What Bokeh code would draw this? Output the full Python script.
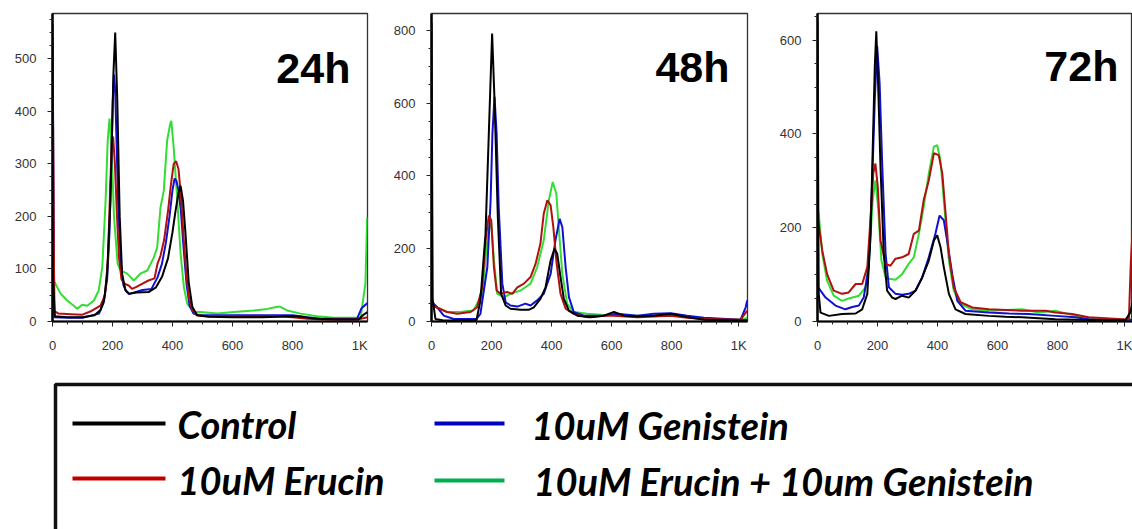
from bokeh.plotting import figure
from bokeh.models import Range1d, FixedTicker, Label, ColumnDataSource
from bokeh.layouts import row, column
from bokeh.embed import file_html
from bokeh.resources import INLINE
from bokeh.core.properties import value

# ---------------- data ----------------
SERIES = ["Control", "10uM Erucin", "10uM Genistein", "10uM Erucin + 10um Genistein"]
LINE_COLORS = ["#000000", "#b01010", "#1010d0", "#33dd33"]
LEGEND_COLORS = ["#000000", "#c00000", "#0000c0", "#00b050"]
PANELS = ["24h", "48h", "72h"]

X_TICKS = [0, 200, 400, 600, 800, 1024]
X_TICK_LABELS = ["0", "200", "400", "600", "800", "1K"]

# 24h
X24_CTRL = [0, 8, 50, 100, 140, 160, 172, 182, 193, 203, 209, 216, 224, 232, 243, 255, 280, 320, 345, 365, 385, 400, 410, 420, 427, 435, 443, 454, 466, 482, 520, 600, 700, 800, 830, 880, 950, 1020, 1035, 1050]
Y24_CTRL = [100, 10, 8, 8, 12, 22, 40, 90, 230, 470, 550, 420, 200, 90, 60, 53, 55, 56, 65, 85, 120, 170, 210, 245, 258, 230, 170, 75, 28, 12, 9, 8, 8, 10, 9, 5, 4, 4, 12, 18]
X24_ERU = [0, 6, 20, 60, 100, 130, 160, 175, 185, 192, 198, 202, 208, 215, 222, 230, 240, 255, 265, 280, 300, 320, 340, 350, 360, 372, 385, 395, 404, 412, 420, 428, 437, 446, 455, 466, 480, 520, 600, 700, 750, 800, 850, 900, 1020, 1050]
Y24_ERU = [540, 20, 15, 14, 13, 20, 30, 50, 120, 250, 345, 352, 300, 200, 120, 80, 72, 68, 62, 66, 72, 78, 82, 110, 125, 155, 210, 262, 300, 305, 290, 240, 160, 90, 45, 22, 12, 10, 10, 9, 10, 8, 5, 4, 4, 8]
X24_GEN = [0, 6, 50, 100, 155, 170, 182, 190, 196, 201, 205, 209, 214, 220, 228, 236, 245, 255, 270, 300, 330, 350, 365, 378, 390, 400, 407, 413, 420, 428, 437, 447, 457, 470, 490, 600, 700, 800, 850, 900, 1015, 1030, 1050]
Y24_GEN = [566, 8, 7, 7, 15, 35, 80, 170, 300, 420, 470, 440, 330, 200, 110, 70, 58, 52, 55, 60, 62, 84, 110, 150, 200, 250, 272, 268, 250, 210, 140, 70, 30, 15, 12, 12, 12, 12, 8, 5, 5, 25, 35]
X24_COMB = [0, 4, 27, 49, 71, 82, 99, 116, 138, 154, 166, 177, 184, 190, 197, 205, 217, 227, 249, 271, 293, 316, 338, 349, 360, 371, 382, 392, 396, 404, 416, 427, 438, 449, 471, 493, 549, 604, 671, 716, 750, 760, 782, 827, 882, 938, 1027, 1043, 1049]
Y24_COMB = [80, 78, 53, 40, 30, 24, 32, 30, 40, 59, 103, 230, 344, 386, 330, 200, 110, 97, 91, 78, 91, 97, 122, 141, 217, 249, 344, 375, 382, 331, 230, 129, 65, 34, 18, 18, 15, 18, 21, 24, 28, 28, 21, 15, 10, 7, 7, 72, 198]

# 48h
X48_CTRL = [0, 4, 13, 40, 100, 150, 163, 180, 191, 202, 210, 221, 232, 247, 263, 297, 324, 341, 363, 380, 397, 410, 419, 430, 441, 458, 486, 530, 574, 608, 641, 686, 741, 797, 852, 908, 1030, 1052]
Y48_CTRL = [820, 60, 7, 3, 3, 4, 58, 241, 516, 791, 608, 287, 76, 44, 35, 32, 32, 39, 62, 94, 168, 200, 186, 122, 62, 30, 16, 12, 16, 26, 16, 14, 16, 21, 12, 5, 3, 4]
X48_ERU = [0, 2, 52, 86, 130, 152, 169, 180, 191, 199, 208, 217, 230, 252, 269, 286, 308, 330, 347, 363, 374, 386, 397, 406, 417, 430, 447, 474, 519, 574, 608, 686, 741, 797, 852, 908, 1030, 1052]
Y48_ERU = [50, 44, 26, 21, 26, 39, 94, 223, 291, 278, 149, 85, 76, 81, 76, 94, 104, 122, 159, 214, 296, 333, 319, 259, 159, 76, 35, 21, 12, 16, 16, 12, 14, 16, 10, 7, 5, 30]
X48_GEN = [0, 2, 19, 41, 74, 150, 163, 186, 197, 203, 210, 217, 224, 236, 247, 263, 286, 313, 330, 352, 374, 397, 413, 427, 436, 447, 458, 474, 508, 574, 619, 686, 741, 797, 852, 908, 1030, 1047, 1052]
Y48_GEN = [60, 53, 39, 16, 7, 7, 21, 149, 333, 516, 617, 516, 314, 104, 53, 44, 41, 49, 44, 58, 76, 131, 223, 282, 259, 149, 67, 26, 16, 16, 21, 16, 21, 23, 16, 10, 5, 39, 58]
X48_COMB = [0, 2, 52, 100, 140, 169, 186, 194, 199, 208, 219, 241, 263, 297, 330, 352, 374, 391, 404, 416, 424, 436, 452, 474, 519, 574, 608, 686, 741, 797, 852, 908, 1030, 1052]
Y48_COMB = [50, 46, 26, 27, 30, 76, 223, 265, 270, 170, 76, 67, 76, 85, 104, 149, 223, 333, 383, 351, 259, 131, 49, 26, 21, 18, 18, 16, 16, 18, 12, 8, 5, 10]

# 72h
X72_CTRL = [0, 4, 10, 38, 82, 127, 149, 166, 177, 184, 191, 196, 202, 210, 221, 232, 249, 260, 282, 304, 327, 349, 371, 388, 399, 410, 421, 438, 460, 493, 571, 627, 682, 793, 904, 1027, 1043, 1050]
Y72_CTRL = [641, 60, 19, 12, 16, 17, 26, 59, 187, 366, 544, 619, 509, 330, 144, 66, 51, 48, 55, 51, 66, 94, 130, 173, 184, 159, 116, 59, 26, 16, 12, 10, 9, 5, 3, 3, 20, 40]
X72_ERU = [0, 2, 16, 32, 54, 82, 104, 127, 149, 166, 177, 186, 193, 201, 210, 227, 243, 260, 282, 304, 321, 338, 354, 371, 388, 404, 416, 427, 438, 454, 477, 516, 571, 682, 760, 793, 849, 904, 1016, 1038, 1044, 1050]
Y72_ERU = [230, 216, 151, 101, 66, 59, 62, 80, 80, 116, 223, 316, 337, 287, 173, 123, 119, 134, 137, 144, 187, 194, 259, 301, 359, 355, 316, 230, 144, 73, 41, 30, 26, 23, 23, 19, 16, 9, 5, 5, 120, 194]
X72_GEN = [0, 4, 27, 60, 93, 116, 138, 154, 171, 182, 191, 199, 207, 216, 227, 238, 260, 282, 304, 327, 349, 371, 393, 407, 421, 432, 449, 466, 493, 571, 638, 704, 793, 860, 904, 1027, 1050]
Y72_GEN = [75, 71, 51, 34, 26, 31, 34, 51, 116, 294, 473, 587, 509, 330, 144, 73, 59, 57, 59, 66, 94, 137, 187, 226, 216, 173, 101, 44, 23, 19, 17, 16, 12, 9, 5, 3, 4]
X72_COMB = [0, 4, 16, 32, 54, 82, 104, 138, 160, 174, 184, 193, 202, 213, 227, 238, 260, 282, 304, 321, 338, 354, 371, 388, 399, 410, 421, 438, 454, 477, 516, 571, 682, 738, 793, 860, 927, 1027, 1050]
Y72_COMB = [240, 230, 144, 87, 55, 44, 49, 55, 73, 151, 259, 301, 244, 130, 94, 91, 89, 101, 123, 137, 187, 244, 316, 373, 376, 344, 259, 130, 66, 37, 26, 23, 26, 19, 23, 12, 5, 3, 4]

PANEL_X = {
    "24h": [X24_CTRL, X24_ERU, X24_GEN, X24_COMB],
    "48h": [X48_CTRL, X48_ERU, X48_GEN, X48_COMB],
    "72h": [X72_CTRL, X72_ERU, X72_GEN, X72_COMB],
}
PANEL_Y = {
    "24h": [Y24_CTRL, Y24_ERU, Y24_GEN, Y24_COMB],
    "48h": [Y48_CTRL, Y48_ERU, Y48_GEN, Y48_COMB],
    "72h": [Y72_CTRL, Y72_ERU, Y72_GEN, Y72_COMB],
}
Y_MAX = {"24h": 586, "48h": 846, "72h": 657}
X_MAX = {"24h": 1050, "48h": 1053, "72h": 1050}
Y_TICKS = {"24h": [0, 100, 200, 300, 400, 500], "48h": [0, 200, 400, 600, 800], "72h": [0, 200, 400, 600]}
Y_MINOR = {"24h": 25, "48h": 50, "72h": 50}
LABEL_POS = {"24h": (993, 483), "48h": (993, 698), "72h": (1003, 544)}

# ---------------- layout ----------------
SIZES = {  # width, border-left, border-right
    "24h": (388, 52, 21),
    "48h": (385, 43, 26),
    "72h": (359, 44, 0),
}
FIG_H = 360

TICK_FONT = "Liberation Sans"
draw_order = [3, 2, 1, 0]

panels = []
for name in PANELS:
    w, bl, br = SIZES[name]
    p = figure(width=w, height=FIG_H, x_range=Range1d(0, X_MAX[name]), y_range=Range1d(0, Y_MAX[name]),
               output_backend="svg", toolbar_location=None,
               min_border_left=bl, min_border_right=br, min_border_top=13, min_border_bottom=39)
    p.grid.visible = False
    p.outline_line_color = "#333333"
    p.outline_line_width = 1.3
    p.background_fill_color = "white"
    p.border_fill_color = "white"

    minor_y = list(range(0, Y_MAX[name] + 1, Y_MINOR[name]))
    p.yaxis.ticker = FixedTicker(ticks=Y_TICKS[name], minor_ticks=minor_y)
    p.xaxis.ticker = FixedTicker(ticks=X_TICKS, minor_ticks=list(range(0, 1001, 50)))
    p.xaxis.major_label_overrides = {t: l for t, l in zip(X_TICKS, X_TICK_LABELS)}

    for ax in (p.xaxis[0], p.yaxis[0]):
        ax.axis_line_color = "black"
        ax.major_tick_line_color = "#222222"
        ax.minor_tick_line_color = "#222222"
        ax.major_tick_in = 0
        ax.major_tick_out = 5
        ax.minor_tick_in = 0
        ax.minor_tick_out = 3
        ax.major_label_text_font = TICK_FONT
        ax.major_label_text_font_size = "13px"
        ax.major_label_text_color = "#333333"
        ax.major_label_standoff = 11
    p.yaxis.axis_line_width = 2.5
    p.xaxis.axis_line_width = 2

    for i in draw_order:
        p.line(PANEL_X[name][i], PANEL_Y[name][i], line_color=LINE_COLORS[i], line_width=2)

    lx, ly = LABEL_POS[name]
    p.add_layout(Label(x=lx, y=ly, text=name, text_align="right", text_baseline="alphabetic",
                       text_font="Liberation Sans", text_font_style="bold", text_font_size="43px",
                       text_color="black"))
    panels.append(p)

# ---------------- legend box ----------------
LEG_TOP = FIG_H
LEG_H = 529 - LEG_TOP
leg = figure(width=1132, height=LEG_H, x_range=Range1d(0, 1132), y_range=Range1d(LEG_TOP + LEG_H, LEG_TOP),
             output_backend="svg", toolbar_location=None, min_border=0,
             x_axis_location=None, y_axis_location=None)
leg.grid.visible = False
leg.outline_line_color = None

# box (top and left edges; the rest runs off the page)
leg.line([55, 55, 1140], [540, 384, 384], line_color="#111111", line_width=3.5)

leg_line_x0 = [72, 72, 434, 434]
leg_line_x1 = [165, 165, 504, 504]
leg_line_y = [423, 478, 423, 480]
leg_text_x = [177, 177, 531, 533]
leg_text_y = [423, 479, 424, 480]
leg.segment(x0=leg_line_x0, y0=leg_line_y, x1=leg_line_x1, y1=leg_line_y, line_color=LEGEND_COLORS, line_width=4)
src = ColumnDataSource(dict(x=leg_text_x, y=leg_text_y, t=SERIES))
leg.text(x="x", y="y", text="t", source=src, text_font=value("Lato"),
         text_font_style="bold italic", text_font_size="38px", text_color="black",
         text_baseline="alphabetic", text_align="left")

layout = column(row(*panels), leg)
open("out.html", "w").write(file_html(layout, INLINE))
